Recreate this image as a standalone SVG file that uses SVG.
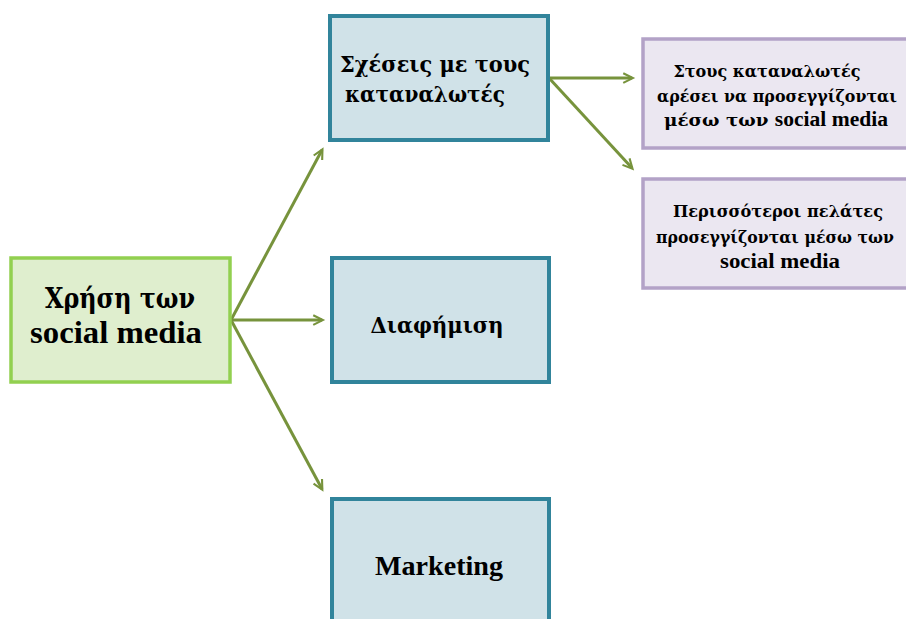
<svg xmlns="http://www.w3.org/2000/svg" width="906" height="619" viewBox="0 0 906 619">
<style>
text{font-family:"DejaVu Serif","Liberation Serif",serif;font-weight:bold;fill:#000;text-anchor:middle}
.en{font-family:"Liberation Serif","Times New Roman",serif}
.blue{fill:#d0e2e8;stroke:#31849b;stroke-width:4}
.green{fill:#dfeece;stroke:#92d050;stroke-width:3.5}
.purple{fill:#ebe7f1;stroke:#b3a2c7;stroke-width:3.5}
.c{stroke:#77933c;stroke-width:3;fill:none;marker-end:url(#ah)}
</style>
<defs>
<marker id="ah" viewBox="0 0 10 10" refX="9" refY="5" markerWidth="6" markerHeight="6" markerUnits="userSpaceOnUse" orient="auto" style="overflow:visible">
<path d="M0,0 L10,5 L0,10" fill="none" stroke="#77933c" stroke-width="2.2" transform="scale(1.6) translate(-3.5,-1.8)"/>
</marker>
</defs>
<rect width="906" height="619" fill="#fff"/>
<g id="connectors">
<line class="c" x1="231" y1="320" x2="322" y2="150"/>
<line class="c" x1="231" y1="320" x2="322" y2="320"/>
<line class="c" x1="231" y1="320" x2="322" y2="489"/>
<line class="c" x1="549" y1="78" x2="632" y2="78"/>
<line class="c" x1="549" y1="78" x2="632" y2="168"/>
</g>
<g id="n-social">
<rect class="green" x="11" y="258" width="219" height="124"/>
<text x="120" y="308" font-size="27" textLength="150" lengthAdjust="spacingAndGlyphs">Χρήση των</text>
<text class="en" x="116" y="343" font-size="31" textLength="172" lengthAdjust="spacingAndGlyphs">social media</text>
</g>
<g id="n-relations">
<rect class="blue" x="330" y="16" width="218" height="124"/>
<text x="435" y="72" font-size="22" textLength="190" lengthAdjust="spacingAndGlyphs">Σχέσεις με τους</text>
<text x="425" y="102" font-size="22" textLength="160" lengthAdjust="spacingAndGlyphs">καταναλωτές</text>
</g>
<g id="n-ad">
<rect class="blue" x="332" y="258" width="217" height="124"/>
<text x="437" y="333" font-size="22" textLength="133" lengthAdjust="spacingAndGlyphs">Διαφήμιση</text>
</g>
<g id="n-marketing">
<rect class="blue" x="332" y="499" width="217" height="130"/>
<text class="en" x="439" y="575" font-size="27" textLength="128" lengthAdjust="spacingAndGlyphs">Marketing</text>
</g>
<g id="n-like">
<rect class="purple" x="643" y="39" width="275" height="109"/>
<text x="767" y="77" font-size="17" textLength="187" lengthAdjust="spacingAndGlyphs">Στους καταναλωτές</text>
<text x="777" y="102" font-size="17" textLength="240" lengthAdjust="spacingAndGlyphs">αρέσει να προσεγγίζονται</text>
<text x="776" y="126" font-size="17" textLength="224" lengthAdjust="spacingAndGlyphs">μέσω των <tspan class="en" font-size="20">social media</tspan></text>
</g>
<g id="n-more">
<rect class="purple" x="643" y="179" width="275" height="109"/>
<text x="778" y="217" font-size="17" textLength="210" lengthAdjust="spacingAndGlyphs">Περισσότεροι πελάτες</text>
<text x="775" y="243" font-size="17" textLength="238" lengthAdjust="spacingAndGlyphs">προσεγγίζονται μέσω των</text>
<text class="en" x="780" y="268" font-size="21" textLength="120" lengthAdjust="spacingAndGlyphs">social media</text>
</g>
</svg>
